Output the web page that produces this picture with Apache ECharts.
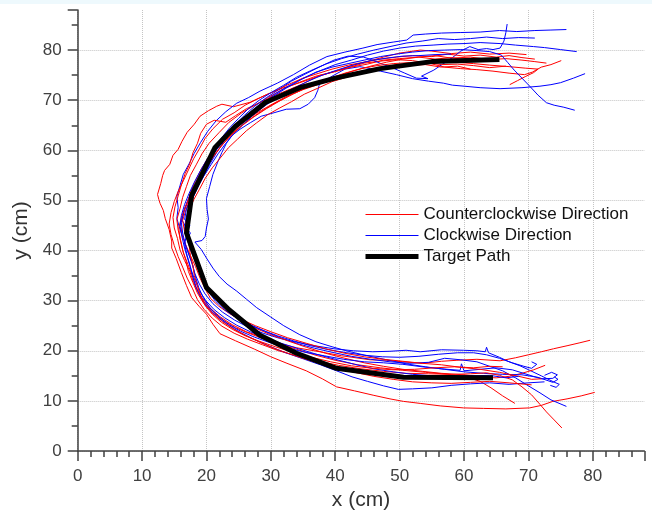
<!DOCTYPE html>
<html>
<head>
<meta charset="utf-8">
<script src="https://cdn.jsdelivr.net/npm/echarts@6/dist/echarts.min.js"></script>
<style>
html,body{margin:0;padding:0;background:#fff;}
#top{position:absolute;left:0;top:0;width:652px;height:4px;background:#eef9fd;}
#c{width:652px;height:516px;}
</style>
</head>
<body>
<div id="c"></div>
<div id="top"></div>
<script>
const seriesNames = ['Counterclockwise Direction', 'Clockwise Direction', 'Target Path'];

const target = [[65.5,78.1],[55,77.7],[47,76.3],[40,74.4],[34.5,72.5],[29.2,69.6],[24.5,64.8],[21.3,60.5],[17.7,51],[16.9,43.5],[20,32.6],[23.5,28.2],[28.3,23.1],[34,19.5],[40.2,16.5],[50.6,14.7],[64.5,14.6]];

const red1 = [[69.7,79.1],[67,79.4],[64,79.2],[61,79.6],[58,79.3],[55,79.8],[53.2,80],[50,79.4],[47.5,78.6],[44.9,77.7],[42.5,76.9],[40.7,76.1],[37.5,74.8],[34.5,73.5],[31.8,72.4],[29.3,71.1],[26.8,69.6],[24.2,68.7],[22.4,69.2],[21.6,68.8],[20.3,67.9],[19,66.8],[18.1,65.2],[17,63.6],[16.2,61.8],[15.6,60.2],[14.8,59],[14.3,57.2],[13.5,56],[13.2,55],[12.9,53.4],[12.4,51.2],[12.6,50.2],[12.8,49.4],[13.3,48],[13.6,46.4],[14.2,44.2],[14.6,41.9],[14.6,40.5],[15.3,38.4],[16.1,35.6],[16.9,33],[17.7,30.6],[18.9,28.8],[20,27.3],[21,25.3],[22.1,23.4],[24.5,22],[27.5,20.3],[30,18.8],[32.5,17.5],[35.5,16],[38,14.4],[40.2,12.8],[43,12],[46,11.1],[48.5,10.4],[50.6,9.9],[53.2,9.5],[56.3,9],[59.9,8.6],[63,8.5],[66.5,8.4],[70.2,8.6],[72,9.1],[73.8,9.9],[76,10.4],[78.2,11],[80.3,11.7]];

const red2 = [[75.1,77.9],[73.5,77.1],[72,76.6],[70.6,75.6],[69.4,75.1],[67,75.4],[64.5,75.8],[62,76.1],[59.5,76.3],[57,76.6],[54.5,77.4],[52,77.9],[49.5,78.1],[47,77.8],[44.5,77.4],[42,76.5],[39.5,75.6],[37,74.8],[34.5,73.6],[32,72.3],[29.5,70.5],[27.5,69],[25.5,67.5],[23.5,65.6],[22,63.6],[20.4,61.4],[19.3,59.3],[18.4,57.1],[17.5,55],[16.9,52.8],[16.3,50.6],[15.9,48.4],[15.4,46.2],[15.6,44.1],[16,42],[16.4,39.6],[17.1,37.3],[17.8,35],[18.4,32.8],[19.3,30.6],[20.6,28.5],[22.1,26.8],[24,25.2],[26.2,23.8],[28.5,22.8],[31,21.6],[34,20.6],[37.6,19.8],[41,19],[45.4,18.2],[48,18.1],[50.5,17.8],[53.5,17.5],[56.5,17.9],[58.9,18.1],[62,18.3],[65.6,18],[68,18.6],[70,19.2],[72,19.8],[73.9,20.4],[76,21],[78,21.6],[79.6,22.1]];

const red3 = [[67.1,73.1],[68.3,73.9],[69.5,74.7],[70.8,75.5],[71.5,76.2],[69.5,76.4],[67,76.7],[64,77],[61.5,77.3],[58.5,77.6],[55.5,77.5],[52.5,77.3],[49.5,77.1],[46.5,76.4],[43.5,75.6],[40.5,74.4],[37.5,73.2],[35,72.1],[32.5,70.8],[30.2,69.2],[28,67.6],[26,65.9],[24.3,64.1],[22.6,62.2],[21.2,60.1],[20.1,58.2],[19.2,56.3],[18.3,54],[17.6,51.9],[17,49.5],[16.4,47.5],[16,45.3],[16.2,43.2],[16.8,41.1],[17.5,39],[18.3,36.8],[19,34.5],[19.8,32.4],[20.6,30.5],[21.9,28.9],[23.6,27.4],[25.5,26],[27.6,24.5],[30,23.2],[32.6,22],[35.5,20.7],[38.5,19.5],[41.5,18.5],[44.5,17.6],[47.5,16.9],[50.5,16.3],[53.5,15.9],[56.5,15.5],[60,15.2],[63,14.7],[65,14.6],[67,14.9],[69,15.5],[70.8,16.2],[72.6,17.1]];

const red4 = [[72.8,77.4],[71,77.7],[69,78],[66.5,78.3],[64,78.1],[61,78.6],[58,78.4],[55.5,78.9],[53,78.6],[50,78.3],[47.5,78],[45,77.2],[42.5,76.6],[40,75.7],[37.5,74.9],[35.2,73.4],[33,72.2],[30.5,70.9],[28.3,69.5],[26.2,68.3],[24.5,66.9],[23,65.6],[21.2,66],[20,65.2],[19.1,63.4],[18.6,61.4],[17.9,59.5],[17.4,57.3],[16.7,55.4],[16.1,53.1],[15.6,50.9],[15.1,48.7],[14.8,46.6],[15,44.5],[15.5,42.4],[15.9,40.1],[16.6,38],[17.4,35.9],[18,33.6],[18.8,31.5],[19.7,29.6],[21,27.6],[22.6,26.1],[24.5,24.6],[26.8,23.4],[29,22.3],[31.5,21.3],[34,20.3],[37,19.1],[40,18.1],[43.5,17.2],[47,16.6],[50.5,16.1],[54,15.7],[57.5,15.3],[60.5,14.7],[62.5,13.9],[64.2,12.6],[66,11],[67.9,9.5]];

const red5 = [[71,78.2],[69,78.5],[67,78.9],[65,78.6],[62.5,79],[60,78.8],[57.5,79.2],[55,78.7],[52,78.9],[49.5,78.6],[47,78.2],[44.5,77.6],[42,77],[39.5,76.2],[37,75.2],[34.8,74.3],[32.5,73],[30.2,71.6],[28,70.3],[26,69],[24.3,67.5],[22.5,66.2],[21,64.3],[19.8,62.4],[18.9,60.3],[18,58.3],[17.2,56.1],[16.4,53.9],[15.6,51.8],[15,49.8],[14.5,47.6],[14.2,45.3],[14.5,43.2],[15,41],[15.6,38.8],[16.3,36.7],[17,34.5],[17.8,32.5],[18.6,30.2],[19.6,28.3],[20.9,26.5],[22.4,24.9],[24.3,23.5],[26.4,22.3],[28.7,21.2],[31.2,20],[34,19],[37.2,18],[40.5,17.1],[44,16.4],[47.5,15.9],[51,15.5],[54.5,15.4],[58,15.3],[61,15.4],[63.5,15.6],[65.5,15.1],[67.5,14.2],[69,12.8],[70.5,11.2],[71.8,9.3],[72.8,7.8],[74,6.2],[75.2,4.6]];

const red6 = [[66.5,76.8],[64,76.5],[61.5,76.9],[59,77.2],[56.5,77.1],[54,77.6],[51.5,77.5],[49,77.3],[46.5,76.9],[44,76.3],[41.5,75.4],[39,74.3],[36.7,73.2],[34.5,71.9],[32.3,70.5],[30.2,69.1],[28.3,67.6],[26.5,66],[24.9,64.4],[23.5,62.7],[22.2,60.7],[21.1,58.8],[20,56.8],[19,54.6],[18.2,52.5],[17.4,50.3],[16.8,48.1],[16.3,46],[16.6,43.8],[17.2,41.7],[17.9,39.5],[18.6,37.4],[19.4,35.2],[20.1,33.1],[21,31.1],[22.2,29.2],[23.7,27.6],[25.5,26.2],[27.6,25],[30,23.8],[32.6,22.6],[35.5,21.5],[38.5,20.4],[41.5,19.5],[44.5,18.8],[47.5,18.3],[50.5,17.9],[53.5,17.5],[56.5,17.2],[59.5,16.7],[62.5,16.3],[65.5,15.7],[68.5,14.9],[70.5,14.3],[72,14.4]];

const red7 = [[63,78.3],[60.5,78],[58,78.5],[55.5,78.2],[53,78.6],[50.5,78.2],[48,77.6],[45.5,76.8],[43,75.9],[40.5,74.9],[38,73.8],[35.7,72.6],[33.5,71.3],[31.3,69.8],[29.3,68.3],[27.4,66.7],[25.6,65],[24,63.2],[22.6,61.3],[21.3,59.2],[20.2,57.1],[19.2,55],[18.3,52.9],[17.4,50.8],[16.7,48.7],[16.1,46.6],[15.7,44.5],[15.9,42.3],[16.3,40.1],[16.8,38],[17.2,35.8],[17.9,33.6],[18.6,31.5],[19.6,29.4],[20.9,27.5],[22.5,25.8],[24.4,24.2],[26.5,22.8],[28.8,21.4],[31.3,20.1],[34,18.9],[37,17.7],[40,16.6],[43,15.7],[46,14.9],[49,14.3],[52,13.8],[55,13.6],[58,13.5],[61,13.7],[64,13.9],[67,13.6],[70.5,13.2]];

const red8 = [[61,76.2],[59,76.8],[56.5,76.6],[54,77.1],[51.5,77],[49,76.7],[46.5,76.2],[44,75.5],[41.8,74.6],[39.5,73.7],[37.3,72.4],[35.2,71.2],[33.2,69.7],[31.3,68.4],[29.5,67.1],[27.8,65.5],[26.2,63.9],[24.8,62.2],[23.4,60.5],[22.1,58.4],[20.9,56.5],[19.8,54.4],[18.9,52.2],[18,50.1],[17.3,47.9],[16.8,45.6],[16.9,43.4],[17.3,41.2],[17.5,39],[17.9,37],[18.1,35],[18.6,33],[19.1,31],[19.8,29],[20.9,27.3],[22.3,25.7],[24,24.3],[26,23],[28.2,21.9],[30.7,20.8],[33.4,19.7],[36.3,18.7],[39.3,17.8],[42.5,17],[45.8,16.5],[49,16.2],[52.3,16.3],[55.5,16.6],[58.5,16.8],[61.5,16.6],[64,16.9],[66,16.8]];

const blue1 = [[75.9,84.1],[73.5,84],[71,83.9],[68.2,83.7],[65.5,83.9],[62.5,83.6],[59.4,83.5],[56.5,83.4],[54,83.2],[52.1,83],[51.1,82],[49,81.6],[46.5,81.1],[44.3,80.4],[41.5,79.6],[38.7,78.7],[36,77],[33.5,75.1],[31,73.4],[28.3,71.8],[26.5,70.5],[24.7,69.4],[23,67.7],[21.5,65.9],[20.2,63.8],[19.1,61.6],[18.1,59.4],[17.3,57.3],[16.4,55.2],[15.9,53],[15.4,50.8],[15.6,48.6],[15.4,46.4],[15.9,44.2],[16.5,42],[17.1,39.8],[17.7,37.7],[18.2,35.4],[18.9,33.3],[19.8,31.3],[21,29.4],[22.5,27.7],[24.4,26.1],[26.5,24.7],[28.8,23.5],[31.3,22.5],[34,21.7],[36.8,21],[39.8,20.4],[42.8,20],[45.8,19.8],[48.5,19.9],[51,20.1],[53.2,19.8],[56.5,20.2],[59.9,20.1],[62,20],[63.3,19.8],[63.5,20.7],[63.8,19.6],[65.5,18.7],[67,17.8],[68.7,17],[70.2,16.1],[72,15],[73.9,13.8],[74.8,13.3],[74.3,12.7],[73.4,13.1]];

const blue2 = [[77.5,79.7],[75,80.1],[72.5,80.5],[70.8,80.7],[68,81],[65.6,81.3],[62.5,81.5],[60,81.3],[57.5,81.2],[55.2,81],[52.5,80.8],[50,80.4],[47.5,79.8],[45,79],[42.5,78],[40,77.1],[37.5,75.8],[35,74.4],[32.8,72.9],[30.7,71.3],[28.8,69.6],[27,67.8],[25.4,65.9],[24,63.9],[22.7,61.8],[21.6,59.6],[20.6,57.4],[19.7,55.2],[18.8,53],[18,50.8],[17.3,48.6],[16.8,46.4],[16.6,44.3],[17.1,42.1],[17.7,39.9],[18.4,37.7],[19.1,35.5],[19.8,33.4],[20.8,31.4],[22,29.6],[23.5,27.9],[25.2,26.4],[27.2,25],[29.4,23.7],[31.7,22.5],[34.2,21.4],[36.8,20.5],[39.5,19.7],[42.5,18.9],[45.5,18.3],[48.5,17.8],[51.5,17.5],[54.5,17.7],[57,18.5],[59.5,18.2],[62,17.8],[64.2,16.8],[66,16],[68,14.6],[70,13],[71.8,11.6],[73.5,10.2],[75.9,8.9]];

const blue3 = [[78.8,75.3],[77,74.4],[75,73.5],[73.5,73.1],[71.8,72.8],[69,72.5],[65.6,72.3],[62.5,72.5],[60,72.8],[58.2,73],[56.8,73.4],[54.5,73.8],[52,74.3],[49.5,75.1],[47,75.8],[45.5,76.3],[43.8,76.7],[41.5,76.2],[39.8,75],[38.6,74.1],[37.6,73.5],[37.3,72],[36.8,70.5],[35.8,69.2],[34.5,68.3],[32.4,68.2],[30.5,67.5],[28.5,66.8],[26.8,65.5],[25.2,64.2],[23.9,62.9],[23.1,61.4],[22.4,59.6],[21.7,57.5],[21,55.2],[20.5,52.8],[20,50.4],[20.1,48.2],[20.3,46.3],[20,44.5],[19.8,42.8],[19.3,42],[18.2,41.7],[19.2,40.2],[20,38.5],[21,36.5],[22,34.8],[23.2,33.3],[24.7,31.9],[26.2,30.3],[27.8,28.6],[29.9,26.8],[32,25],[34.5,23.2],[37,21.8],[39.5,20.8],[42,19.9],[45,19],[48,18.2],[51,17.4],[54,16.8],[57,16.3],[60,15.8],[63,15.5],[66,15.3],[69,15.2],[71.5,14.7],[73.8,13.7],[74.6,14.3],[74,14.8]];

const blue4 = [[66.7,85.2],[66.5,83.5],[66.2,81.8],[65.6,80.4],[64.5,80.1],[63.5,80.3],[62.2,80.1],[60.9,80.7],[59.5,79.8],[58.2,78.5],[56.8,77.3],[55.3,76],[53.4,74.8],[54.4,74.3],[52.6,74.4],[50.8,75.4],[49,76.4],[47.3,77.2],[45.6,78.1],[44.4,78.6],[42,78.8],[39.8,78],[37.5,76.6],[35.3,75.2],[33.2,73.8],[31.2,72.1],[29.3,70.5],[27.5,68.8],[25.9,67],[24.4,65.1],[23.1,63.1],[21.9,61],[20.8,58.9],[19.8,56.6],[18.8,54.4],[17.9,52.2],[17.1,50],[16.5,47.8],[16.1,45.6],[16.3,43.5],[16.7,41.3],[17.3,39.1],[17.9,36.9],[18.3,34.7],[18.8,32.6],[19.5,30.6],[20.5,28.6],[21.8,26.9],[23.4,25.3],[25.3,23.9],[27.5,22.7],[29.9,21.6],[32.5,20.6],[35.3,19.7],[38.3,19],[41.3,18.3],[44.5,17.8],[47.5,17.6],[50.5,17.3],[53.5,16.8],[56.5,16.4],[59.4,16.1],[59.6,17.4],[60,16],[62.5,16.3],[65,16.6],[67.5,16.2],[70,15.2],[72,14.4],[73.8,14.5],[74.5,15.2],[73.6,15.7],[72.5,15.1]];

const blue5 = [[77.2,68],[75.5,68.6],[74,69],[72.8,69.5],[71.5,71],[70.2,72.8],[69,74.4],[67.8,76],[66.8,77.5],[65.8,79],[64,79.7],[62,79.9],[59.5,80.1],[57,80],[54.5,79.9],[52,79.6],[49.5,79.2],[47,78.7],[44.5,78],[42,77.3],[39.5,76.6],[37,75.6],[34.7,74.1],[32.5,72.5],[30.4,70.8],[28.5,69.1],[26.7,67.3],[25.1,65.5],[23.7,63.6],[22.4,61.6],[21.2,59.4],[20.1,57.2],[19,55],[18.1,52.8],[17.3,50.5],[16.6,48.3],[16.2,46.1],[16.9,44.4],[17.5,43.5],[17,42.2],[17.5,40.2],[18.2,38],[18.9,35.8],[19.6,33.7],[20.3,31.8],[21.4,29.9],[22.8,28.2],[24.5,26.7],[26.4,25.3],[28.5,24.2],[31,23],[33.5,22],[36.2,21],[39,20.2],[41.8,19.6],[44.6,19.1],[47.3,18.8],[50,18.7],[53,18.9],[56,19.3],[59,19.6],[61.5,19.6],[63.5,19.2],[65.5,18.5],[67.5,17.6],[69.3,16.9],[70.5,16.5],[71.3,17.3],[70.5,17.8]];

const blue6 = [[58,79.2],[55.5,79.1],[53,78.9],[50.5,78.8],[48,78.4],[45.5,77.9],[43,77.1],[40.5,76.1],[38,75],[35.6,73.7],[33.3,72.2],[31.2,70.7],[29.2,69],[27.4,67.2],[25.8,65.3],[24.3,63.4],[23,61.4],[21.8,59.3],[20.7,57.1],[19.6,54.9],[18.6,52.7],[17.7,50.5],[16.9,48.3],[16.6,46.2],[17.4,45],[16.9,43.2],[16.6,41.2],[17,39],[17.5,36.8],[17.9,34.6],[18.4,32.5],[19.2,30.4],[20.3,28.5],[21.7,26.7],[23.4,25.1],[25.3,23.6],[27.5,22.2],[29.8,20.9],[32.3,19.6],[35,18.4],[37.7,17.2],[40.2,16],[42.6,14.8],[45,13.9],[47.5,13],[49.8,12.3],[52,12.4],[55,12.6],[58,13.1],[61,13.4],[64,13.6],[67,13.3],[70,13.6],[72.5,13.8]];

const blue7 = [[71,82.4],[68.5,82.5],[66,82.3],[63.5,82.6],[61,82.3],[58.5,82.1],[56,82.3],[53.5,81.8],[51,81.4],[48.5,80.7],[46,80],[43.5,79.2],[41,78.3],[38.5,77.2],[36.2,75.9],[34,74.6],[32,73],[30,71.5],[28.2,70],[26.5,68.3],[25,66.4],[23.6,64.5],[22.3,62.4],[21.1,60.2],[20,58],[19,55.8],[18.1,53.6],[17.3,51.4],[16.6,49.2],[16.1,47],[15.9,44.8],[16.2,42.7],[16.6,40.5],[17.1,38.3],[17.6,36.2],[18.2,34.1],[18.9,32],[19.9,30],[21.2,28.2],[22.8,26.6],[24.7,25.1],[26.8,23.8],[29.1,22.6],[31.6,21.5],[34.3,20.4],[37.1,19.3],[40,18.3],[43,17.3],[46,16.4],[49,15.8],[52,15.3],[55,15],[58,14.9],[61,15],[64,15.1],[66.5,14.6],[68.5,14.9]];

const redTraces = [red1, red2, red3, red4, red5, red6, red7, red8];
const blueTraces = [blue1, blue2, blue3, blue4, blue5, blue6, blue7];

const RED = '#ff0000', BLUE = '#0000ff';
const series = [];
const maxLen = Math.max(redTraces.length, blueTraces.length);
for (let i = 0; i < maxLen; i++) {
  if (redTraces[i]) series.push({type:'line', name: seriesNames[0], data: redTraces[i], symbol:'none', lineStyle:{color:RED, width:1}, itemStyle:{color:RED}, z:2});
  if (blueTraces[i]) series.push({type:'line', name: seriesNames[1], data: blueTraces[i], symbol:'none', lineStyle:{color:BLUE, width:1}, itemStyle:{color:BLUE}, z:2});
}
series.push({type:'line', name: seriesNames[2], data: target, symbol:'none', lineStyle:{color:'#000', width:5, join:'round'}, itemStyle:{color:'#000'}, z:3});

const gridColors = ['#c4c4c4','#c4c4c4','#c4c4c4','#c4c4c4','#c4c4c4','#c4c4c4','#c4c4c4','#c4c4c4','#c4c4c4','rgba(0,0,0,0)'];
const FONT = 'Arial, "Liberation Sans", sans-serif';

const chart = echarts.init(document.getElementById('c'), null, {renderer:'canvas'});
chart.setOption({
  animation:false,
  backgroundColor:'#fff',
  grid:{left:77.7, right:7.7, top:10, bottom:61, containLabel:false},
  legend:{
    data: [
      {name: seriesNames[0], lineStyle:{width:1, color:RED}},
      {name: seriesNames[1], lineStyle:{width:1, color:BLUE}},
      {name: seriesNames[2], lineStyle:{width:5, color:'#000'}}
    ],
    orient:'vertical', left:358, top:201,
    itemWidth:53, itemHeight:14, itemGap:4,
    itemStyle:{opacity:0},
    textStyle:{fontSize:17, lineHeight:17, color:'#111', fontFamily:FONT}
  },
  xAxis:{
    type:'value', min:0, max:88, interval:10,
    name:'x (cm)', nameLocation:'middle', nameGap:39,
    nameTextStyle:{fontSize:21, color:'#333', fontFamily:FONT},
    axisLine:{show:true, onZero:false, lineStyle:{color:'#404040', width:1.5}},
    axisTick:{show:true, inside:false, length:10, lineStyle:{color:'#404040', width:1.5}},
    minorTick:{show:true, splitNumber:5, length:6, lineStyle:{color:'#404040', width:1.5}},
    axisLabel:{fontSize:17, color:'#404040', margin:17, fontFamily:FONT, showMaxLabel:false,
      formatter: v => (v % 10 === 0 ? String(v) : '')},
    splitLine:{show:true, lineStyle:{type:'dotted', color:gridColors, width:1}}
  },
  yAxis:{
    type:'value', min:0, max:88, interval:10,
    name:'y (cm)', nameLocation:'middle', nameGap:44,
    nameTextStyle:{fontSize:21, color:'#333', fontFamily:FONT},
    axisLine:{show:true, onZero:false, lineStyle:{color:'#404040', width:1.5}},
    axisTick:{show:true, inside:false, length:10, lineStyle:{color:'#404040', width:1.5}},
    minorTick:{show:true, splitNumber:2, length:6, lineStyle:{color:'#404040', width:1.5}},
    axisLabel:{fontSize:17, color:'#404040', margin:16, fontFamily:FONT, showMaxLabel:false,
      formatter: v => (v % 10 === 0 ? String(v) : '')},
    splitLine:{show:true, lineStyle:{type:'dotted', color:gridColors, width:1}}
  },
  series: series
});
</script>
</body>
</html>
